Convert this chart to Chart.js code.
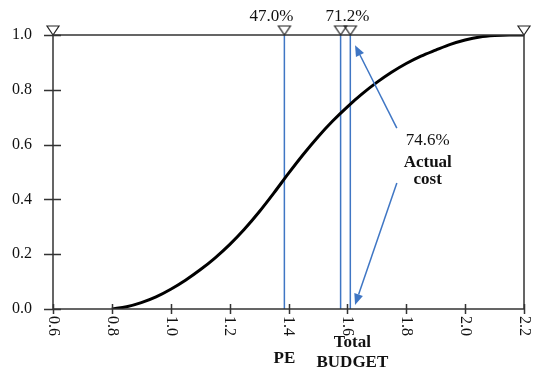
<!DOCTYPE html>
<html>
<head>
<meta charset="utf-8">
<script src="https://cdn.jsdelivr.net/npm/chart.js@4.4.1/dist/chart.umd.min.js"></script>
<style>
  body { margin: 0; background: #fff; }
  #wrap { width: 537px; height: 374px; position: relative; }
</style>
</head>
<body>
<div id="wrap"><canvas id="cdf-chart"></canvas></div>
<script>
// axis ticks
const xTicks = [0.6, 0.8, 1.0, 1.2, 1.4, 1.6, 1.8, 2.0, 2.2];
const yTicks = [0.0, 0.2, 0.4, 0.6, 0.8, 1.0];

// cumulative curve
const curveX = [0.80, 0.85, 0.90, 0.95, 1.00, 1.05, 1.10, 1.15, 1.20, 1.25, 1.30, 1.35, 1.40, 1.45, 1.50,
                1.55, 1.60, 1.65, 1.70, 1.75, 1.80, 1.85, 1.90, 1.95, 2.00, 2.05, 2.10, 2.15, 2.20];
const curveY = [0.000, 0.008, 0.023, 0.044, 0.072, 0.105, 0.143, 0.186, 0.235, 0.291, 0.354, 0.423, 0.495, 0.564, 0.628,
                0.686, 0.738, 0.785, 0.827, 0.864, 0.896, 0.923, 0.945, 0.966, 0.982, 0.993, 0.998, 1.000, 1.000];

// markers on the top line and vertical lines
const markerX = [0.6, 1.386, 1.577, 1.61, 2.2];
const peValue = 1.386;
const budgetValues = [1.577, 1.61];
const topLabels = ['47.0%', '71.2%'];
const actualLabel = '74.6%';

const FONT = "'Liberation Serif', 'Times New Roman', serif";
const BLUE = '#3f76c4';

// open down-pointing triangle, apex at the centre of the image
function makeTriangle() {
    const c = document.createElement('canvas');
    c.width = 16; c.height = 22;
    const g = c.getContext('2d');
    g.strokeStyle = '#222';
    g.lineWidth = 1.2;
    g.beginPath();
    g.moveTo(2, 2);
    g.lineTo(14, 2);
    g.lineTo(8, 11);
    g.closePath();
    g.stroke();
    return c;
}

function vline(x) {
    return {
        data: [{x: x, y: 0}, {x: x, y: 1}],
        borderColor: BLUE,
        borderWidth: 1.5,
        pointRadius: 0,
        order: 2
    };
}

function drawArrow(ctx, x1, y1, x2, y2) {
    const ang = Math.atan2(y2 - y1, x2 - x1);
    const len = 11, half = 4.5;
    const bx = x2 - len * Math.cos(ang), by = y2 - len * Math.sin(ang);
    ctx.beginPath();
    ctx.moveTo(x1, y1);
    ctx.lineTo(bx, by);
    ctx.stroke();
    ctx.beginPath();
    ctx.moveTo(x2, y2);
    ctx.lineTo(bx + half * Math.sin(ang), by - half * Math.cos(ang));
    ctx.lineTo(bx - half * Math.sin(ang), by + half * Math.cos(ang));
    ctx.closePath();
    ctx.fill();
}

const decor = {
    id: 'decor',
    afterDraw(chart) {
        const ctx = chart.ctx;
        const xs = chart.scales.x, ys = chart.scales.y;
        const a = chart.chartArea;
        ctx.save();

        // frame
        ctx.strokeStyle = '#333';
        ctx.lineWidth = 1.5;
        ctx.strokeRect(a.left, a.top, a.right - a.left, a.bottom - a.top);

        // ticks crossing the axes
        ctx.beginPath();
        xTicks.forEach(v => {
            const px = Math.round(xs.getPixelForValue(v)) + 0.5;
            ctx.moveTo(px, a.bottom - 5);
            ctx.lineTo(px, a.bottom + 5);
        });
        yTicks.forEach(v => {
            const py = Math.round(ys.getPixelForValue(v)) + 0.5;
            ctx.moveTo(a.left - 9, py);
            ctx.lineTo(a.left + 8, py);
        });
        ctx.stroke();

        // x tick labels, turned clockwise
        ctx.fillStyle = '#111';
        ctx.font = '16px ' + FONT;
        ctx.textAlign = 'left';
        ctx.textBaseline = 'middle';
        xTicks.forEach(v => {
            ctx.save();
            ctx.translate(xs.getPixelForValue(v), a.bottom + 7);
            ctx.rotate(Math.PI / 2);
            ctx.fillText(v.toFixed(1), 0, 0);
            ctx.restore();
        });

        // labels above the markers
        ctx.textAlign = 'center';
        ctx.textBaseline = 'alphabetic';
        ctx.font = '17px ' + FONT;
        ctx.fillText(topLabels[0], xs.getPixelForValue(peValue) - 13, 21);
        ctx.fillText(topLabels[1], (xs.getPixelForValue(budgetValues[0]) + xs.getPixelForValue(budgetValues[1])) / 2 + 2, 21);

        // annotation text
        const ax = xs.getPixelForValue(1.873);
        ctx.textBaseline = 'middle';
        ctx.fillText(actualLabel, ax, ys.getPixelForValue(0.615));
        ctx.font = 'bold 17px ' + FONT;
        ctx.fillText('Actual', ax, ys.getPixelForValue(0.533));
        ctx.fillText('cost', ax, ys.getPixelForValue(0.471));

        // bottom labels
        ctx.fillText('PE', xs.getPixelForValue(peValue), 359);
        ctx.fillText('Total', xs.getPixelForValue(1.617), 343);
        ctx.fillText('BUDGET', xs.getPixelForValue(1.617), 363);

        // arrows
        ctx.strokeStyle = BLUE;
        ctx.fillStyle = BLUE;
        ctx.lineWidth = 1.5;
        drawArrow(ctx, xs.getPixelForValue(1.768), ys.getPixelForValue(0.66),
                  xs.getPixelForValue(1.626), ys.getPixelForValue(0.963));
        drawArrow(ctx, xs.getPixelForValue(1.768), ys.getPixelForValue(0.46),
                  xs.getPixelForValue(1.626), ys.getPixelForValue(0.015));
        ctx.restore();
    }
};

const ctx = document.getElementById('cdf-chart').getContext('2d');
const cdfChart = new Chart(ctx, {
    type: 'line',
    data: {
        datasets: [
            {
                data: curveX.map((x, i) => ({x: x, y: curveY[i]})),
                borderColor: '#000',
                borderWidth: 3,
                pointRadius: 0,
                cubicInterpolationMode: 'monotone',
                order: 1
            },
            vline(peValue),
            vline(budgetValues[0]),
            vline(budgetValues[1]),
            {
                data: markerX.map(x => ({x: x, y: 1})),
                showLine: false,
                pointStyle: makeTriangle(),
                pointRadius: 8,
                clip: false,
                order: 0
            }
        ]
    },
    options: {
        responsive: true,
        maintainAspectRatio: false,
        animation: false,
        layout: { padding: { left: 0, right: 13, top: 35, bottom: 0 } },
        plugins: {
            legend: { display: false },
            tooltip: { enabled: false }
        },
        scales: {
            x: {
                type: 'linear',
                min: 0.6,
                max: 2.2,
                afterBuildTicks: s => { s.ticks = xTicks.map(v => ({value: v})); },
                afterFit: s => { s.height = 65; },
                grid: { display: false },
                border: { display: false },
                ticks: { display: false }
            },
            y: {
                type: 'linear',
                min: 0,
                max: 1,
                afterBuildTicks: s => { s.ticks = yTicks.map(v => ({value: v})); },
                afterFit: s => { s.width = 53; },
                grid: { display: false, drawTicks: false },
                border: { display: false },
                ticks: {
                    color: '#111',
                    padding: 21,
                    font: { family: FONT, size: 16 },
                    callback: v => v.toFixed(1)
                }
            }
        }
    },
    plugins: [decor]
});
</script>
</body>
</html>
